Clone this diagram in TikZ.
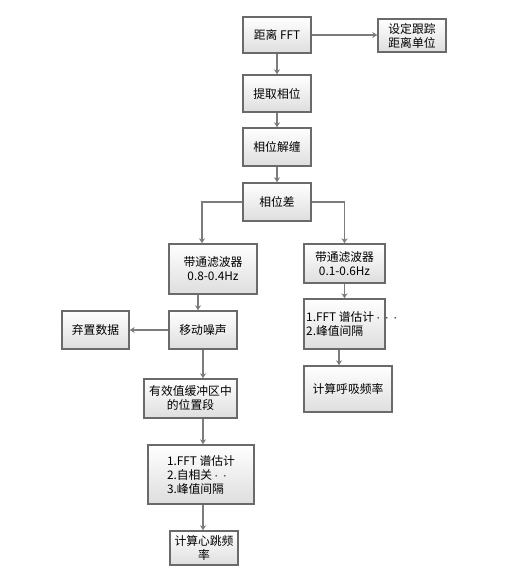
\documentclass[tikz,border=0pt]{standalone}
\usepackage{fontspec}
\newfontfamily\cjk{Noto Sans CJK SC}
\usetikzlibrary{arrows.meta}
\definecolor{boxline}{HTML}{6A6A6A}
\definecolor{conn}{HTML}{7C7C7C}
\tikzset{
  box/.style={draw=boxline, line width=1.4pt, top color=white, bottom color=black!13,
    inner sep=2pt, font=\cjk\fontsize{11.8}{14}\selectfont, align=center},
  arr/.style={draw=conn, line width=1.5pt, -{Stealth[length=5pt,width=6pt,inset=1.5pt]}},
}
\newcommand{\lightdots}[1]{{\color{black!65}\fontsize{8.5}{14}\selectfont #1}}
\begin{document}
\begin{tikzpicture}[x=1pt,y=-1pt]
\useasboundingbox (0,0) rectangle (526,573);
% column coordinates
\coordinate (cL) at (202,0);
\coordinate (cM) at (198,0);
\coordinate (cC) at (203,0);
\coordinate (cB) at (339,0);
% nodes
\node[box, minimum width=68pt, minimum height=36pt] (fft) at (277,35) {距离 FFT};
\node[box, minimum width=68pt, minimum height=33pt, align=left] (track) at (412,35.5) {设定跟踪\\距离单位};
\node[box, minimum width=68pt, minimum height=37pt] (ext) at (277,93.5) {提取相位};
\node[box, minimum width=68pt, minimum height=38pt] (unw) at (277,147) {相位解缠};
\node[box, minimum width=68pt, minimum height=38pt] (diff) at (277,202) {相位差};
\node[box, minimum width=88pt, minimum height=50pt] (bpL) at (213,269) {带通滤波器\\0.8-0.4Hz};
\node[box, minimum width=81pt, minimum height=39pt] (bpR) at (344.5,263.5) {带通滤波器\\0.1-0.6Hz};
\node[box, minimum width=68pt, minimum height=38pt] (move) at (203,330) {移动噪声};
\node[box, minimum width=67pt, minimum height=38pt] (disc) at (95.5,330) {弃置数据};
\node[box, minimum width=93pt, minimum height=39pt] (eff) at (190.5,398.5) {有效值缓冲区中\\的位置段};
\node[box, minimum width=81pt, minimum height=50pt] (listR) at (344.5,324) {};
\node[anchor=west, font=\cjk\fontsize{11.8}{14}\selectfont, align=left, inner sep=0pt] (listRt) at (306,324) {1.FFT 谱估计\lightdots{···}\\2.峰值间隔};
\node[box, minimum width=88pt, minimum height=46pt] (breath) at (348,389) {计算呼吸频率};
\node[box, minimum width=106pt, minimum height=59pt, align=left] (listL) at (201,474.5) {1.FFT 谱估计\\2.自相关\lightdots{··}\\3.峰值间隔};
\node[box, minimum width=68pt, minimum height=34pt] (heart) at (204,548) {计算心跳频\\率};
% connectors
\draw[arr] (fft.east) -- (track.west |- fft.east);
\draw[arr] (fft) -- (ext);
\draw[arr] (ext) -- (unw);
\draw[arr] (unw) -- (diff);
\draw[arr] (diff.west) -| (bpL.north -| cL);
\draw[arr] (diff.east) -| (bpR.north);
\draw[arr] (bpL.south -| cM) -- (move.north -| cM);
\draw[arr] (move.west) -- (disc.east);
\draw[arr] (move.south -| cC) -- (eff.north -| cC);
\draw[arr] (bpR.south) -- (listR.north);
\draw[arr] (listR.south -| cB) -- (breath.north -| cB);
\draw[arr] (eff.south -| cC) -- (listL.north -| cC);
\draw[arr] (listL.south -| cC) -- (heart.north -| cC);
\end{tikzpicture}
\end{document}
